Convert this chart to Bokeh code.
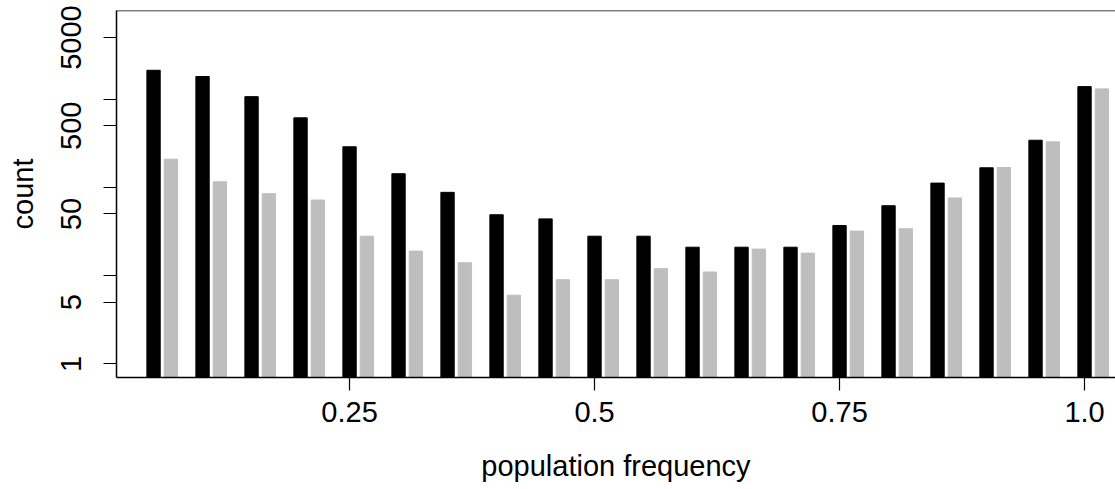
from bokeh.plotting import figure
from bokeh.models import Range1d, FixedTicker, Span
from bokeh.embed import file_html
from bokeh.resources import INLINE

# Data
freq = [0.05, 0.10, 0.15, 0.20, 0.25, 0.30, 0.35, 0.40, 0.45, 0.50,
        0.55, 0.60, 0.65, 0.70, 0.75, 0.80, 0.85, 0.90, 0.95, 1.00]
black_counts = [2130, 1810, 1070, 615, 289, 143, 88, 49, 44, 28,
                28, 21, 21, 21, 37, 62, 112, 167, 343, 1390]
grey_counts = [209, 116, 85, 72, 28, 19, 14, 6, 9, 9,
               12, 11, 20, 18, 32, 34, 76, 168, 329, 1310]

x_ticks = [0.25, 0.5, 0.75, 1.0]
x_tick_labels = ["0.25", "0.5", "0.75", "1.0"]
y_ticks = [1, 5, 10, 50, 100, 500, 1000, 5000]
y_tick_labels = ["1", "5", "", "50", "", "500", "", "5000"]

BAR_W = 0.0136
OFFSET = 0.0177
FONT = "Liberation Sans"

p = figure(width=1115, height=489, output_backend="svg", toolbar_location=None,
           y_axis_type="log",
           x_range=Range1d(0.0122, 1.0316), y_range=Range1d(0.70, 10140),
           min_border_left=116, min_border_right=0, min_border_top=10,
           min_border_bottom=112)
p.outline_line_color = None
p.grid.visible = False
p.background_fill_color = "white"
p.border_fill_color = "white"

grey_x = [f + OFFSET for f in freq]
p.vbar(x=freq, top=black_counts, bottom=0.05, width=BAR_W,
       fill_color="black", line_color="black", line_width=1)
p.vbar(x=grey_x, top=grey_counts, bottom=0.05, width=BAR_W,
       fill_color="#BEBEBE", line_color="#BEBEBE", line_width=1)

p.add_layout(Span(location=10140, dimension="width", line_color="black",
                  line_width=1.5))

xa = p.xaxis[0]
xa.ticker = FixedTicker(ticks=x_ticks)
xa.major_label_overrides = {t: l for t, l in zip(x_ticks, x_tick_labels)}
xa.axis_label = "population frequency"

ya = p.yaxis[0]
ya.ticker = FixedTicker(ticks=y_ticks)
ya.major_label_overrides = {t: l for t, l in zip(y_ticks, y_tick_labels)}
ya.axis_label = "count"
ya.major_label_orientation = "vertical"

for ax in (xa, ya):
    ax.axis_line_color = "black"
    ax.axis_line_width = 1.5
    ax.major_tick_line_color = "black"
    ax.major_tick_line_width = 1.2
    ax.major_tick_in = 0
    ax.major_tick_out = 13
    ax.minor_tick_line_color = None
    ax.major_label_text_font = FONT
    ax.major_label_text_font_size = "29px"
    ax.major_label_text_color = "black"
    ax.axis_label_text_font = FONT
    ax.axis_label_text_font_size = "29px"
    ax.axis_label_text_font_style = "normal"
    ax.axis_label_text_color = "black"

xa.major_label_standoff = 11
xa.axis_label_standoff = 25
ya.major_label_standoff = 22
ya.axis_label_standoff = 20

open("out.html", "w").write(file_html(p, INLINE))
